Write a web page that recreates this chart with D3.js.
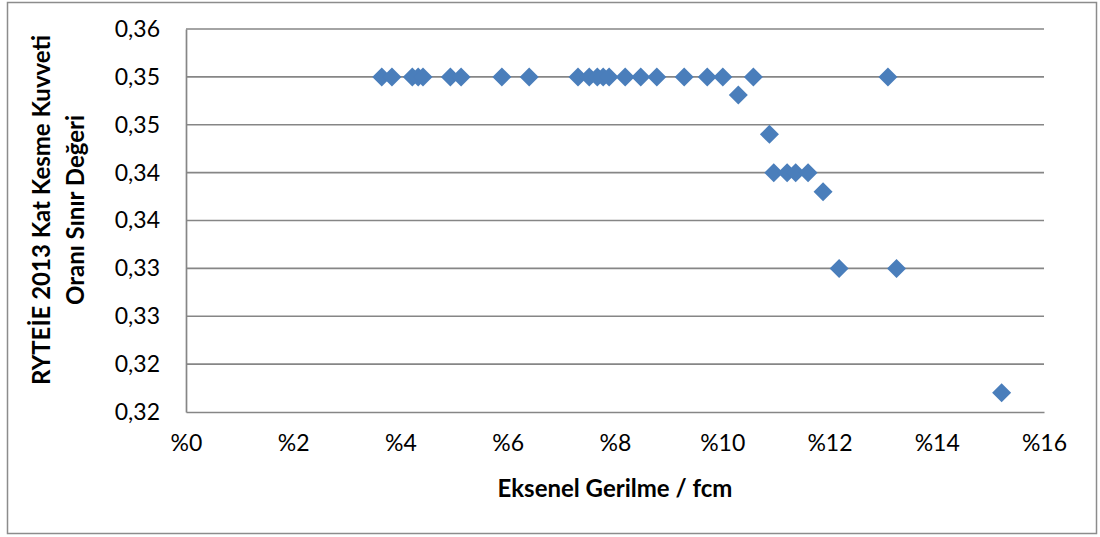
<!DOCTYPE html>
<html>
<head>
<meta charset="utf-8">
<script src="https://cdn.jsdelivr.net/npm/d3@7"></script>
<style>
  html, body { margin: 0; padding: 0; background: #fff; }
  svg { display: block; }
  text { font-family: Lato, "Open Sans", "DejaVu Sans", sans-serif; fill: #000; }
</style>
</head>
<body>
<svg id="chart" width="1100" height="537"></svg>
<script>
// Eksenel gerilme (% of fcm) and the corresponding RYTEİE 2013 limit ratio
const strainPct = [
  3.65, 3.84, 4.22, 4.33, 4.42, 4.93, 5.13, 5.89, 6.40, 7.31, 7.52, 7.67,
  7.78, 7.89, 8.19, 8.48, 8.78, 9.29, 9.72, 10.01, 10.58, 13.09,
  10.30, 10.88, 10.96, 11.21, 11.37, 11.60, 11.88, 12.18, 13.25, 15.21
];
const limitRatio = [
  0.355, 0.355, 0.355, 0.355, 0.355, 0.355, 0.355, 0.355, 0.355, 0.355, 0.355, 0.355,
  0.355, 0.355, 0.355, 0.355, 0.355, 0.355, 0.355, 0.355, 0.355, 0.355,
  0.3531, 0.3490, 0.345, 0.345, 0.345, 0.345, 0.3430, 0.335, 0.335, 0.3220
];

// Axis ticks and their printed labels
const xTickValues = [0, 2, 4, 6, 8, 10, 12, 14, 16];
const xTickLabels = ["%0", "%2", "%4", "%6", "%8", "%10", "%12", "%14", "%16"];
const yTickValues = [0.320, 0.325, 0.330, 0.335, 0.340, 0.345, 0.350, 0.355, 0.360];
const yTickLabels = ["0,32", "0,32", "0,33", "0,33", "0,34", "0,34", "0,35", "0,35", "0,36"];

const xTitle = "Eksenel Gerilme / fcm";
const yTitleLines = ["RYTEİE 2013 Kat Kesme Kuvveti", "Oranı Sınır Değeri"];

const svg = d3.select("#chart");
const plot = { left: 186, right: 1044, top: 29, bottom: 412 };

const x = d3.scaleLinear().domain([0, 16]).range([plot.left, plot.right]);
const y = d3.scaleLinear().domain([0.32, 0.36]).range([plot.bottom, plot.top]);

const gridColor = "#868686";
const markColor = "#4a7ebb";
const tickFont = "23px";
const titleFont = "24px";

// Outer chart frame
svg.append("rect")
  .attr("x", 7.5).attr("y", 2.5)
  .attr("width", 1089).attr("height", 531)
  .attr("fill", "#fff")
  .attr("stroke", "#8c8c8c")
  .attr("stroke-width", 1.5);

// Horizontal gridlines
svg.append("g")
  .selectAll("line")
  .data(yTickValues.slice(1))
  .join("line")
  .attr("x1", plot.left).attr("x2", plot.right)
  .attr("y1", d => y(d)).attr("y2", d => y(d))
  .attr("stroke", gridColor)
  .attr("stroke-width", 1.7);

// Y axis
const yAxis = svg.append("g")
  .attr("transform", `translate(${plot.left},0)`)
  .call(d3.axisLeft(y)
    .tickValues(yTickValues)
    .tickFormat((d, i) => yTickLabels[i])
    .tickSize(0)
    .tickPadding(26));
yAxis.select(".domain").attr("stroke", gridColor).attr("stroke-width", 1.7);
yAxis.selectAll("text")
  .style("font-size", tickFont)
  .style("font-family", "Lato, 'Open Sans', sans-serif")
  .attr("fill", "#000");

// X axis
const xAxis = svg.append("g")
  .attr("transform", `translate(0,${plot.bottom})`)
  .call(d3.axisBottom(x)
    .tickValues(xTickValues)
    .tickFormat((d, i) => xTickLabels[i])
    .tickSize(0)
    .tickPadding(23));
xAxis.select(".domain").attr("stroke", gridColor).attr("stroke-width", 1.7);
xAxis.selectAll("text")
  .style("font-size", tickFont)
  .style("font-family", "Lato, 'Open Sans', sans-serif")
  .attr("fill", "#000");

// Axis titles
svg.append("text")
  .attr("x", (plot.left + plot.right) / 2)
  .attr("y", 497)
  .attr("text-anchor", "middle")
  .style("font-size", titleFont)
  .style("font-weight", "bold")
  .text(xTitle);

const yTitle = svg.append("text")
  .attr("transform", "translate(50,210) rotate(-90)")
  .attr("text-anchor", "middle")
  .style("font-size", titleFont)
  .style("font-weight", "bold");
yTitle.selectAll("tspan")
  .data(yTitleLines)
  .join("tspan")
  .attr("x", 0)
  .attr("dy", (d, i) => i === 0 ? 0 : 34)
  .text(d => d);

// Diamond markers
const half = 9.5;
const diamond = `M0,${-half}L${half},0L0,${half}L${-half},0Z`;
svg.append("g")
  .selectAll("path")
  .data(strainPct.map((v, i) => [v, limitRatio[i]]))
  .join("path")
  .attr("d", diamond)
  .attr("transform", d => `translate(${x(d[0])},${y(d[1])})`)
  .attr("fill", markColor);
</script>
</body>
</html>
